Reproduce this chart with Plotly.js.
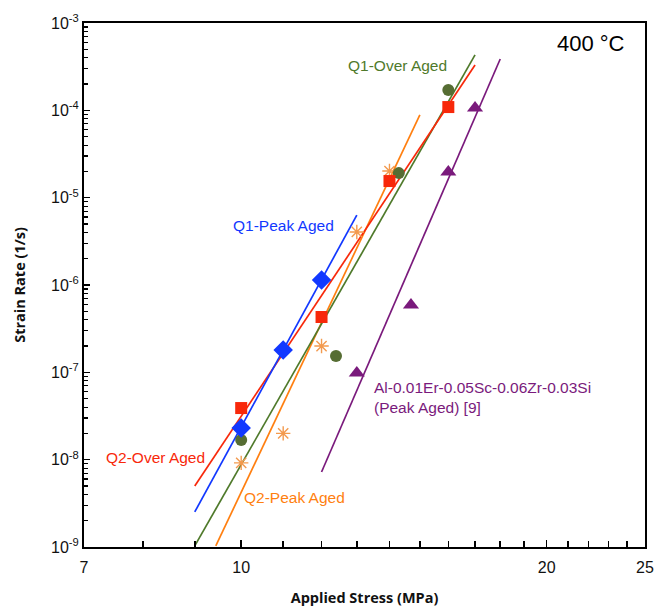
<!DOCTYPE html>
<html>
<head>
<meta charset="utf-8">
<script src="https://cdn.plot.ly/plotly-3.0.1.min.js"></script>
<style>
  html, body { margin: 0; padding: 0; background: #ffffff; }
  #chart { width: 657px; height: 611px; }
</style>
</head>
<body>
<div id="chart"></div>
<script>
// ---- Data (stress in MPa, strain rate in 1/s) ----
const q1PeakStress = [10, 11, 12];
const q1PeakRate   = [2.3e-8, 1.8e-7, 1.14e-6];

const q2OverStress = [10, 12, 14, 16];
const q2OverRate   = [3.9e-8, 4.3e-7, 1.55e-5, 1.09e-4];

const q1OverStress = [10, 12.4, 14.3, 16];
const q1OverRate   = [1.68e-8, 1.54e-7, 1.91e-5, 1.71e-4];

const q2PeakStress = [10, 11, 12, 13, 14];
const q2PeakRate   = [9.2e-9, 2.0e-8, 2.0e-7, 4.05e-6, 2.02e-5];

const refStress = [13, 14.7, 16, 17];
const refRate   = [9.8e-8, 5.9e-7, 1.97e-5, 1.06e-4];

// fitted power-law lines (end points)
const q1PeakFitStress = [9.0, 13.0];
const q1PeakFitRate   = [2.52e-9, 6.32e-6];
const q2OverFitStress = [9.0, 17.0];
const q2OverFitRate   = [4.99e-9, 3.30e-4];
const q1OverFitStress = [9.0, 17.0];
const q1OverFitRate   = [1.03e-9, 4.31e-4];
const q2PeakFitStress = [9.44, 15.0];
const q2PeakFitRate   = [1.03e-9, 8.85e-5];
const refFitStress    = [12.0, 18.0];
const refFitRate      = [7.23e-9, 3.87e-4];

// tick labels
const xTickVals = [7, 10, 20, 25];
const xTickText = ['7', '10', '20', '25'];
const yTickVals = [1e-9, 1e-8, 1e-7, 1e-6, 1e-5, 1e-4, 1e-3];
const yTickText = ['10<sup>-9</sup>', '10<sup>-8</sup>', '10<sup>-7</sup>', '10<sup>-6</sup>',
                   '10<sup>-5</sup>', '10<sup>-4</sup>', '10<sup>-3</sup>'];

// ---- styles ----
const C_BLUE = '#1238ff';
const C_RED = '#f8280a';
const C_GREEN = '#4f7a2b';
const C_GREEN_PT = '#566d33';
const C_ORANGE = '#ff7f10';
const C_ORANGE_PT = '#f39a4e';
const C_PURPLE = '#7a1a7c';

function fitLine(x, y, color) {
  return { x: x, y: y, mode: 'lines', type: 'scatter', showlegend: false,
           hoverinfo: 'skip', line: { color: color, width: 1.7 } };
}
function pts(x, y, color, symbol, size, lineW) {
  const m = { color: color, symbol: symbol, size: size };
  if (lineW) m.line = { color: color, width: lineW };
  return { x: x, y: y, mode: 'markers', type: 'scatter', showlegend: false, marker: m };
}

const traces = [
  fitLine(q2PeakFitStress, q2PeakFitRate, C_ORANGE),
  fitLine(q1OverFitStress, q1OverFitRate, C_GREEN),
  fitLine(q2OverFitStress, q2OverFitRate, C_RED),
  fitLine(q1PeakFitStress, q1PeakFitRate, C_BLUE),
  fitLine(refFitStress, refFitRate, C_PURPLE),
  pts(q2PeakStress, q2PeakRate, C_ORANGE_PT, 'asterisk-open', 12, 1.4),
  pts(q1OverStress, q1OverRate, C_GREEN_PT, 'circle', 12),
  pts(q2OverStress, q2OverRate, C_RED, 'square', 12),
  pts(q1PeakStress, q1PeakRate, C_BLUE, 'diamond', 15),
  pts(refStress, refRate, C_PURPLE, 'triangle-up', 14),
  // empty trace so the tick-only overlay axis is created
  { x: [], y: [], xaxis: 'x2', yaxis: 'y', type: 'scatter', mode: 'markers', showlegend: false, hoverinfo: 'skip' }
];

// stress-axis minor ticks every 1 MPa (overlay axis works in log10 space)
const xMinorLog = [];
for (let v = 8; v <= 24; v++) if (xTickVals.indexOf(v) < 0) xMinorLog.push(Math.log10(v));

const labelFont = (c) => ({ family: 'Liberation Sans, Arial, sans-serif', size: 15.5, color: c });

const layout = {
  width: 657, height: 611,
  margin: { l: 84, r: 12, t: 23, b: 64, pad: 0 },
  paper_bgcolor: '#ffffff', plot_bgcolor: '#ffffff',
  font: { family: 'Liberation Sans, Arial, sans-serif', size: 16, color: '#000000' },
  showlegend: false,
  xaxis: {
    type: 'log',
    range: [Math.log10(7), Math.log10(25)],
    tickmode: 'array', tickvals: xTickVals, ticktext: xTickText,
    ticks: 'inside', ticklen: 7, tickwidth: 1.5, tickcolor: '#000',
    ticklabelstandoff: 5,
    showgrid: false, zeroline: false,
    showline: true, linecolor: '#000', linewidth: 2, mirror: true,
    tickfont: { size: 16, color: '#111' },
    title: { text: 'Applied Stress (MPa)', standoff: 18,
             font: { family: 'Open Sans, sans-serif', size: 14.5, weight: 'bold', color: '#111' } }
  },
  xaxis2: {
    type: 'linear', overlaying: 'x', anchor: 'y', side: 'bottom',
    range: [Math.log10(7), Math.log10(25)],
    tickmode: 'array', tickvals: xMinorLog, showticklabels: false,
    ticks: 'inside', ticklen: 6, tickwidth: 1.5, tickcolor: '#000',
    showgrid: false, zeroline: false, showline: false
  },
  yaxis: {
    type: 'log',
    range: [-9, -3],
    tickmode: 'array', tickvals: yTickVals, ticktext: yTickText,
    ticks: 'inside', ticklen: 6, tickwidth: 1.3, tickcolor: '#000',
    minor: { dtick: 'D1', ticks: 'inside', ticklen: 4, tickwidth: 1.1, tickcolor: '#000', showgrid: false },
    showgrid: false, zeroline: false,
    showline: true, linecolor: '#000', linewidth: 2, mirror: true,
    tickfont: { size: 16, color: '#111' },
    title: { text: 'Strain Rate (1/s)', standoff: 22,
             font: { family: 'Open Sans, sans-serif', size: 14.5, weight: 'bold', color: '#111' } }
  },
  annotations: [
    { text: '400 °C', xref: 'paper', yref: 'paper', x: 0.904, y: 0.960, showarrow: false,
      xanchor: 'center', yanchor: 'middle', font: { family: 'Liberation Sans, Arial, sans-serif', size: 22, color: '#000' } },
    { text: 'Q1-Over Aged', xref: 'paper', yref: 'paper', x: 0.558, y: 0.918, showarrow: false,
      xanchor: 'center', yanchor: 'middle', font: labelFont(C_GREEN) },
    { text: 'Q1-Peak Aged', xref: 'paper', yref: 'paper', x: 0.355, y: 0.613, showarrow: false,
      xanchor: 'center', yanchor: 'middle', font: labelFont(C_BLUE) },
    { text: 'Q2-Over Aged', xref: 'paper', yref: 'paper', x: 0.128, y: 0.170, showarrow: false,
      xanchor: 'center', yanchor: 'middle', font: labelFont(C_RED) },
    { text: 'Q2-Peak Aged', xref: 'paper', yref: 'paper', x: 0.376, y: 0.095, showarrow: false,
      xanchor: 'center', yanchor: 'middle', font: labelFont(C_ORANGE) },
    { text: 'Al-0.01Er-0.05Sc-0.06Zr-0.03Si<br>(Peak Aged) [9]', xref: 'paper', yref: 'paper',
      x: 0.513, y: 0.286, showarrow: false, align: 'left',
      xanchor: 'left', yanchor: 'middle', font: labelFont(C_PURPLE) }
  ]
};

Plotly.newPlot('chart', traces, layout, { displayModeBar: false, staticPlot: true });
</script>
</body>
</html>
